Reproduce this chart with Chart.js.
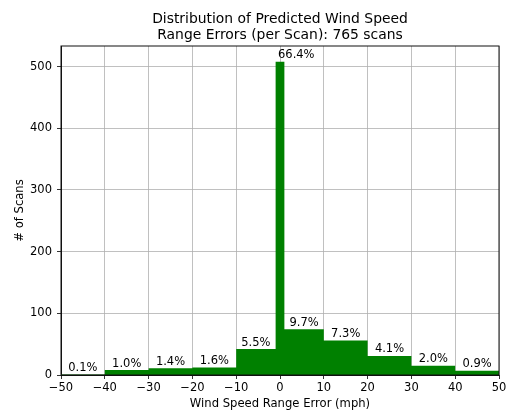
<!DOCTYPE html>
<html>
<head>
<meta charset="utf-8">
<script src="https://cdn.jsdelivr.net/npm/chart.js@4/dist/chart.umd.min.js"></script>
<style>
  html, body { margin: 0; padding: 0; background: #fff; }
  #wrap { width: 509px; height: 412px; }
</style>
</head>
<body>
<div id="wrap"><canvas id="c" width="509" height="412"></canvas></div>
<script>
// Histogram bin edges (mph) and number of scans per bin
const binEdges = [-50, -40, -30, -20, -10, -1, 1, 10, 20, 30, 40, 50];
const binCounts = [1, 8, 11, 12, 42, 508, 74, 56, 31, 15, 7];
const xTicks = [-50, -40, -30, -20, -10, 0, 10, 20, 30, 40, 50];
const yTicks = [0, 100, 200, 300, 400, 500];
const titleLines = ['Distribution of Predicted Wind Speed', 'Range Errors (per Scan): 765 scans'];

const totalScans = binCounts.reduce((a, b) => a + b, 0);
const percentLabels = binCounts.map(c => (100 * c / totalScans).toFixed(1) + '%');

// Step outline of the histogram: each bin's count held from its left edge to the next edge
const stepPoints = binCounts.map((c, i) => ({ x: binEdges[i], y: c }));
stepPoints.push({ x: binEdges[binEdges.length - 1], y: binCounts[binCounts.length - 1] });

const FONT = "'DejaVu Sans', sans-serif";
const yTop = Math.max(...binCounts) * 1.05;

const annotate = {
  id: 'annotate',
  afterDraw(chart) {
    const { ctx, chartArea, scales } = chart;
    const xs = scales.x, ys = scales.y;
    ctx.save();
    // frame around the plotting area
    ctx.strokeStyle = '#111';
    ctx.lineWidth = 1;
    ctx.strokeRect(chartArea.left, chartArea.top, chartArea.right - chartArea.left, chartArea.bottom - chartArea.top);

    // percentage above each bin
    ctx.fillStyle = '#000';
    ctx.font = '11.5px ' + FONT;
    ctx.textBaseline = 'alphabetic';
    binCounts.forEach((c, i) => {
      const lo = binEdges[i], hi = binEdges[i + 1];
      const cx = xs.getPixelForValue((lo + hi) / 2);
      const top = ys.getPixelForValue(c);
      const narrow = (hi - lo) < 5;
      ctx.textAlign = narrow ? 'left' : 'center';
      ctx.fillText(percentLabels[i], cx - (narrow ? 2 : 0), top - 3.5);
    });

    // two-line title centred over the plot
    ctx.font = '13.9px ' + FONT;
    ctx.textAlign = 'center';
    ctx.textBaseline = 'middle';
    const mid = (chartArea.left + chartArea.right) / 2;
    ctx.fillText(titleLines[0], mid, 19.5);
    ctx.fillText(titleLines[1], mid, 35.5);
    ctx.restore();
  }
};

new Chart(document.getElementById('c'), {
  type: 'line',
  data: {
    datasets: [{
      data: stepPoints,
      stepped: 'before',
      fill: 'origin',
      backgroundColor: '#008000',
      borderColor: '#008000',
      borderWidth: 0,
      pointRadius: 0,
      pointHoverRadius: 0
    }]
  },
  options: {
    responsive: false,
    animation: false,
    events: [],
    layout: { padding: { top: 46, right: 10, left: 0, bottom: 0 } },
    plugins: {
      legend: { display: false },
      title: { display: false },
      tooltip: { enabled: false }
    },
    scales: {
      x: {
        type: 'linear',
        z: 1,
        min: binEdges[0],
        max: binEdges[binEdges.length - 1],
        afterBuildTicks(scale) { scale.ticks = xTicks.map(v => ({ value: v })); },
        afterFit(scale) { scale.height = 37; },
        ticks: {
          color: '#000',
          font: { family: FONT, size: 11.5 },
          padding: 2,
          maxRotation: 0,
          autoSkip: false,
          callback: v => String(v).replace('-', '\u2212')
        },
        grid: { color: '#b0b0b0', lineWidth: 0.8, drawTicks: true, tickLength: 4, tickColor: '#000', tickWidth: 0.8 },
        border: { display: true, color: '#111', width: 1 },
        title: {
          display: true,
          text: 'Wind Speed Range Error (mph)',
          color: '#000',
          font: { family: FONT, size: 11.6 },
          padding: { top: 0, bottom: 1 }
        }
      },
      y: {
        type: 'linear',
        z: 1,
        min: 0,
        max: yTop,
        afterBuildTicks(scale) { scale.ticks = yTicks.map(v => ({ value: v })); },
        afterFit(scale) { scale.width = 61; },
        ticks: {
          color: '#000',
          font: { family: FONT, size: 11.5 },
          padding: 5,
          autoSkip: false
        },
        grid: { color: '#b0b0b0', lineWidth: 0.8, drawTicks: true, tickLength: 4, tickColor: '#000', tickWidth: 0.8 },
        border: { display: true, color: '#111', width: 1 },
        title: {
          display: true,
          text: '# of Scans',
          color: '#000',
          font: { family: FONT, size: 11.6 },
          padding: { top: 13, bottom: 0 }
        }
      }
    }
  },
  plugins: [annotate]
});
</script>
</body>
</html>
